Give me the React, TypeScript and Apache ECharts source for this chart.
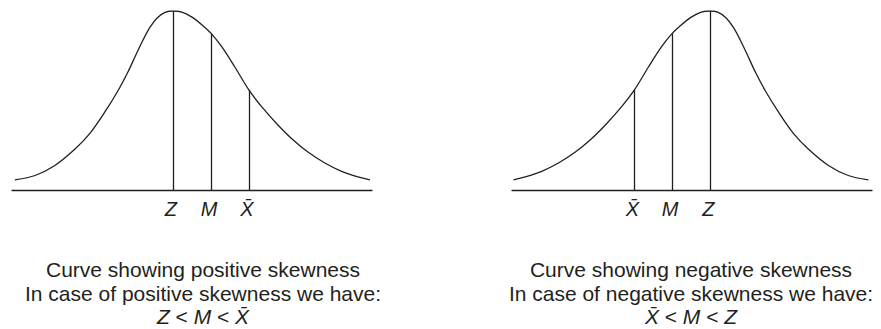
import React, { useEffect, useRef } from "react";
import * as echarts from "echarts";

// Positive skewness curve (x: 0..100 along the baseline, y: 0..100 height)
const posCurveX = [0.8, 6.4, 11.9, 17.5, 21.7, 25.8, 29.4, 32.2, 34.4, 36.4, 38.3, 40.3, 42.5, 44.7, 47.2, 50, 52.8, 55.3, 58.3, 61.9, 65.8, 69.4, 73.6, 77.8, 82.2, 86.9, 91.7, 96.1, 99.4];
const posCurveY = [5.6, 8.1, 13.7, 22.9, 31.8, 43.6, 55.3, 65.9, 75.4, 83.8, 90.8, 96.1, 99.2, 100, 99.4, 96.6, 92.2, 87.5, 79.9, 68.7, 55.9, 46.4, 36.9, 28.5, 21.2, 15.1, 10.3, 7.3, 5.6];
const posMarkX = [44.7, 55.3, 65.8];
const posMarkTop = [100, 87.5, 55.9];
const posMarkLabels = ["Z", "M", "X\u0304"];

// Negative skewness curve
const negCurveX = [0.4, 3.7, 8.1, 12.9, 17.6, 22.0, 26.2, 30.4, 34.0, 37.9, 41.5, 44.5, 47.0, 49.8, 52.6, 55.1, 57.3, 59.5, 61.5, 63.4, 65.4, 67.6, 70.4, 74.0, 78.1, 82.3, 87.9, 93.4, 99.0];
const negCurveY = [5.6, 7.3, 10.3, 15.1, 21.2, 28.5, 36.9, 46.4, 55.9, 68.7, 79.9, 87.5, 92.2, 96.6, 99.4, 100, 99.2, 96.1, 90.8, 83.8, 75.4, 65.9, 55.3, 43.6, 31.8, 22.9, 13.7, 8.1, 5.6];
const negMarkX = [34.0, 44.5, 55.1];
const negMarkTop = [55.9, 87.5, 100];
const negMarkLabels = ["X\u0304", "M", "Z"];

const posCaption = ["Curve showing positive skewness", "In case of positive skewness we have:"];
const posRelation = ["Z", "M", "X\u0304"];
const negCaption = ["Curve showing negative skewness", "In case of negative skewness we have:"];
const negRelation = ["X\u0304", "M", "Z"];

const INK = "#231f20";
const FONT = "'Liberation Sans', Arial, Helvetica, sans-serif";

function xAxisFor(gridIndex: number, marks: number[], labels: string[]) {
  return {
    type: "value",
    gridIndex,
    min: 0,
    max: 100,
    splitLine: { show: false },
    axisTick: { show: false },
    axisLine: { show: true, onZero: false, lineStyle: { color: INK, width: 1.4 } },
    axisLabel: {
      show: true,
      customValues: marks,
      margin: 9,
      padding: [0, 4, 0, 0],
      color: INK,
      fontFamily: FONT,
      fontSize: 20,
      fontStyle: "italic",
      formatter: (v: number) => {
        const i = marks.findIndex((m) => Math.abs(m - v) < 0.001);
        return i >= 0 ? labels[i] : "";
      },
    },
  };
}

function curveSeries(idx: number, xs: number[], ys: number[], marks: number[], tops: number[]) {
  return {
    type: "line",
    xAxisIndex: idx,
    yAxisIndex: idx,
    data: xs.map((x, i) => [x, ys[i]]),
    showSymbol: false,
    smooth: 0.3,
    silent: true,
    lineStyle: { color: INK, width: 1.3 },
    markLine: {
      symbol: "none",
      silent: true,
      label: { show: false },
      lineStyle: { color: INK, width: 1.3, type: "solid" },
      data: marks.map((m, i) => [{ coord: [m, 0] }, { coord: [m, tops[i]] }]),
    },
  };
}

function captionText(cx: number, lines: string[], rel: string[]) {
  const relLine = rel.map((r) => `{i|${r}}`).join(" < ");
  return {
    type: "text",
    x: cx,
    y: 258,
    silent: true,
    style: {
      text: [...lines, relLine].join("\n"),
      fill: INK,
      fontSize: 21,
      fontFamily: FONT,
      align: "center",
      verticalAlign: "top",
      lineHeight: 23.5,
      rich: {
        i: { fontStyle: "italic", fontSize: 21, fontFamily: FONT, fill: INK, lineHeight: 23.5 },
      },
    },
  };
}

export default function App() {
  const ref = useRef<HTMLDivElement>(null);
  useEffect(() => {
    if (!ref.current) return;
    const chart = echarts.init(ref.current, undefined, { renderer: "svg" });
    chart.setOption({
      animation: false,
      backgroundColor: "#ffffff",
      grid: [
        { left: 12, top: 11, width: 360, height: 179 },
        { left: 512, top: 11, width: 360, height: 179 },
      ],
      xAxis: [xAxisFor(0, posMarkX, posMarkLabels), xAxisFor(1, negMarkX, negMarkLabels)],
      yAxis: [
        { type: "value", gridIndex: 0, min: 0, max: 100, show: false },
        { type: "value", gridIndex: 1, min: 0, max: 100, show: false },
      ],
      series: [
        curveSeries(0, posCurveX, posCurveY, posMarkX, posMarkTop),
        curveSeries(1, negCurveX, negCurveY, negMarkX, negMarkTop),
      ],
      graphic: [captionText(203, posCaption, posRelation), captionText(691, negCaption, negRelation)],
    });
    return () => chart.dispose();
  }, []);
  return <div ref={ref} style={{ position: "fixed", left: 0, top: 0, width: 881, height: 329 }} />;
}
